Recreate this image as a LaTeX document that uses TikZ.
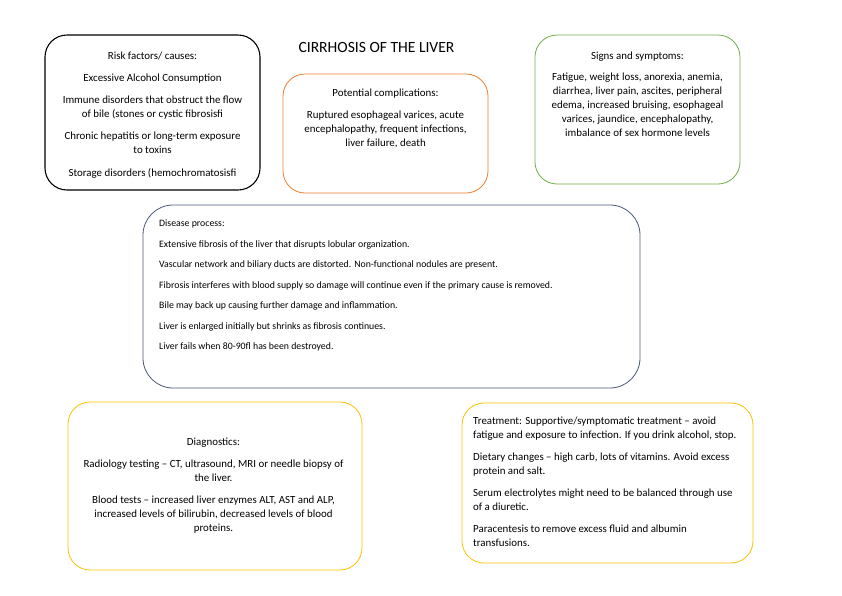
\documentclass[tikz,border=0pt]{standalone}
\usepackage{fontspec}
\setmainfont{Carlito}
\usetikzlibrary{positioning}
\definecolor{riskline}{HTML}{000000}
\definecolor{compline}{HTML}{ED7D31}
\definecolor{signline}{HTML}{70AD47}
\definecolor{procline}{HTML}{4A5878}
\definecolor{diagline}{HTML}{FFC000}
\begin{document}
\begin{tikzpicture}[x=1pt,y=-1pt,line cap=round,line join=round,
  box/.style={draw,rounded corners=22pt,line width=0.8pt,inner sep=0pt},
  txt/.style={font=\fontsize{10.9}{14}\selectfont,align=center,inner sep=0pt,anchor=north},
  ltxt/.style={txt,align=left,anchor=north west}]
  \useasboundingbox (0,0) rectangle (842,595);
  % boxes
  \node[box,line width=1.1pt,minimum width=215pt,minimum height=155pt] (risk) at (152.5,112.5) {};
  \node[box,draw=compline,minimum width=205pt,minimum height=119pt] (comp) at (385.5,133.5) {};
  \node[box,draw=signline,minimum width=205pt,minimum height=149pt] (sign) at (637.5,109.5) {};
  \node[box,draw=procline,rounded corners=30pt,minimum width=497pt,minimum height=183pt] (proc) at (391.5,296.5) {};
  \node[box,draw=diagline,minimum width=294pt,minimum height=168pt] (diag) at (215,486) {};
  \node[box,draw=diagline,minimum width=291pt,minimum height=160pt] (treat) at (607.5,483) {};
  % title
  \node[font=\fontsize{15.6}{18}\selectfont,inner sep=0pt] (title) at (376.5,47) {CIRRHOSIS OF THE LIVER};
  % texts
  \node[txt] (risktxt) at (152.5,52) {Risk factors/ causes:\\[8pt]
    Excessive Alcohol Consumption\\[8pt]
    Immune disorders that obstruct the flow\\ of bile (stones or cystic fibrosisfi\\[8pt]
    Chronic hepatitis or long-term exposure\\ to toxins\\[8.5pt]
    Storage disorders (hemochromatosisfi};
  \node[txt] (comptxt) at (385.5,89) {Potential complications:\\[8pt]
    Ruptured esophageal varices, acute\\ encephalopathy, frequent infections,\\ liver failure, death};
  \node[txt] (signtxt) at (637.5,51.5) {Signs and symptoms:\\[7pt]
    Fatigue, weight loss, anorexia, anemia,\\ diarrhea, liver pain, ascites, peripheral\\
    edema, increased bruising, esophageal\\ varices, jaundice, encephalopathy,\\
    imbalance of sex hormone levels};
  \node[ltxt,font=\fontsize{9.8}{20.5}\selectfont] (proctxt) at (159,220) {Disease process:\\
    Extensive fibrosis of the liver that disrupts lobular organization.\\
    Vascular network and biliary ducts are distorted. Non-functional nodules are present.\\
    Fibrosis interferes with blood supply so damage will continue even if the primary cause is removed.\\
    Bile may back up causing further damage and inflammation.\\
    Liver is enlarged initially but shrinks as fibrosis continues.\\
    Liver fails when 80-90fl has been destroyed.};
  \node[txt] (diagtxt) at (213.5,438) {Diagnostics:\\[8pt]
    Radiology testing -- CT, ultrasound, MRI or needle biopsy of\\ the liver.\\[8pt]
    Blood tests -- increased liver enzymes ALT, AST and ALP,\\
    increased levels of bilirubin, decreased levels of blood\\ proteins.};
  \node[ltxt] (treattxt) at (473,417) {Treatment: Supportive/symptomatic treatment -- avoid\\
    fatigue and exposure to infection. If you drink alcohol, stop.\\[8pt]
    Dietary changes -- high carb, lots of vitamins. Avoid excess\\ protein and salt.\\[8pt]
    Serum electrolytes might need to be balanced through use\\ of a diuretic.\\[8pt]
    Paracentesis to remove excess fluid and albumin\\ transfusions.};
\end{tikzpicture}
\end{document}
